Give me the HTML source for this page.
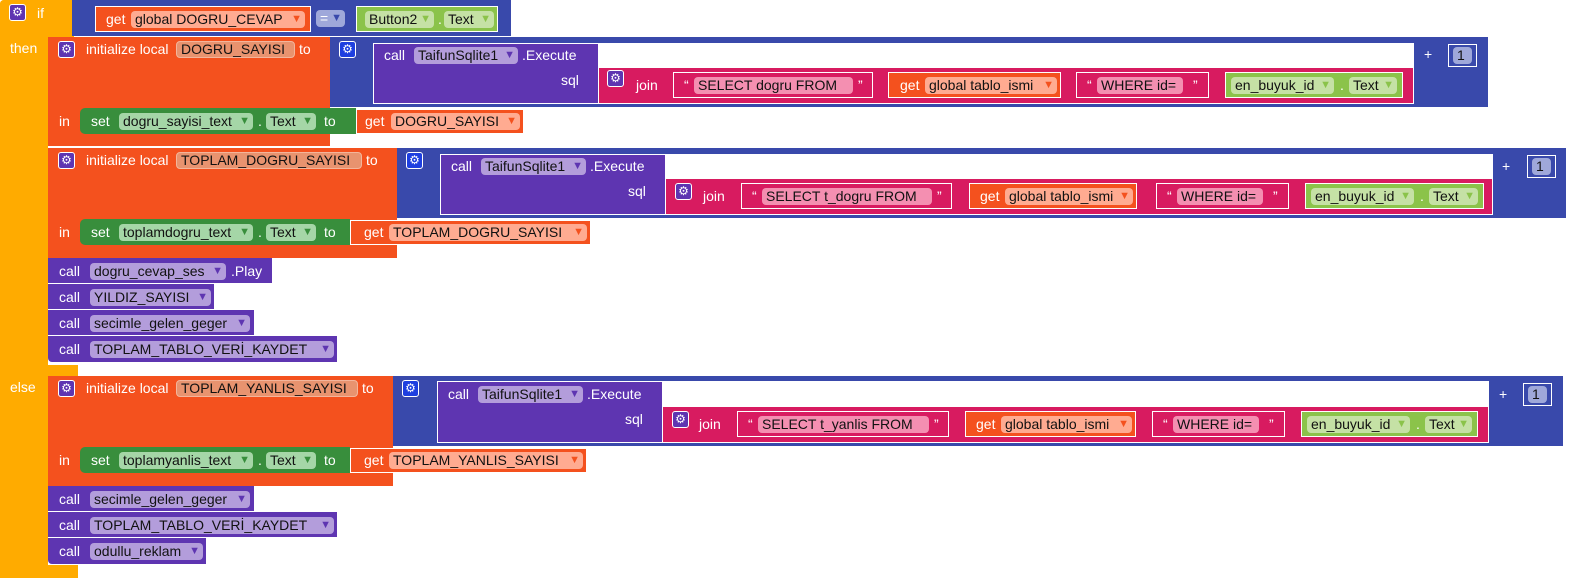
<!DOCTYPE html>
<html><head><meta charset="utf-8"><style>
*{margin:0;padding:0;box-sizing:border-box}
body{width:1582px;height:585px;background:#fff;position:relative;overflow:hidden;font:14px "Liberation Sans",sans-serif;color:#fff}
div,span{position:absolute;white-space:nowrap}
.r{}
.Y{background:#FFAB00}.O{background:#F4511E}.B{background:#3949AB}.P{background:#5E35B1}.K{background:#D81B60}.G{background:#388E3C}.L{background:#8BC34A}.W{background:#fff}
.o{border:1px solid #fff}
.t{line-height:16px;margin-top:-8px}
.p{height:17px;line-height:17px;margin-top:-8.5px;border-radius:4px;color:#111;padding-left:4px}
.p i{position:absolute;right:3px;top:0;font-style:normal;font-size:11px}
.gs{background:#FFAB91}.gs i{color:#F4511E}
.nm{background:#E8936F;border:1px solid #F3B59B;line-height:15px}
.lg{background:#C5E1A5}.lg i{color:#8BC34A}
.dg{background:#A5D6A7}.dg i{color:#388E3C}
.pu{background:#B39DDB}.pu i{color:#5E35B1}
.pk{background:#F48FB1}
.gear{width:17px;height:17px;border-radius:3px;background:#5E35B1;border:1px solid #fff;color:#fff;font-size:12px;line-height:15px;text-align:center}
.gb{background:#1E3FE0}
</style></head><body>
<!-- yellow if block -->
<div class="Y" style="left:0;top:0;width:48px;height:578px;border-radius:4px 0 0 4px"></div>
<div class="Y" style="left:0;top:0;width:74px;height:37px;border-radius:4px 0 0 0"></div>
<div class="Y" style="left:46px;top:365px;width:32px;height:12px"></div>
<div class="Y" style="left:0;top:565px;width:78px;height:13px"></div>
<div class="gear" style="left:9px;top:4px">⚙</div>
<span class="t" style="left:37px;top:13px">if</span>
<span class="t" style="left:10px;top:48px">then</span>
<span class="t" style="left:10px;top:387px">else</span>

<!-- if condition -->
<div class="B" style="left:72px;top:0;width:439px;height:36px"></div>
<div class="O o" style="left:95px;top:6px;width:216px;height:26px"></div>
<span class="t" style="left:106px;top:19px">get</span>
<span class="p gs" style="left:131px;top:19px;width:174px">global DOGRU_CEVAP<i>▼</i></span>
<span class="p" style="left:316px;top:18px;width:29px;background:#9FA8DA;color:#fff">=<i style="color:#3949AB">▼</i></span>
<div class="L o" style="left:356px;top:6px;width:142px;height:26px"></div>
<span class="p lg" style="left:365px;top:19px;width:69px">Button2<i>▼</i></span>
<span class="t" style="left:438px;top:19px">.</span>
<span class="p lg" style="left:444px;top:19px;width:50px">Text<i>▼</i></span>

<!-- ===== Section 1 ===== -->
<div class="O" style="left:48px;top:37px;width:282px;height:109px"></div>
<div class="gear" style="left:58px;top:41px">⚙</div>
<span class="t" style="left:86px;top:49px">initialize local</span>
<span class="p nm" style="left:176px;top:49px;width:119px">DOGRU_SAYISI</span>
<span class="t" style="left:299px;top:49px">to</span>
<div class="B" style="left:330px;top:37px;width:1158px;height:70px"></div>
<div class="gear gb" style="left:339px;top:41px">⚙</div>
<div class="W" style="left:598px;top:43px;width:816px;height:24px"></div>
<div class="P o" style="left:373px;top:43px;width:226px;height:61px"></div>
<span class="t" style="left:384px;top:55px">call</span>
<span class="p pu" style="left:414px;top:55px;width:104px">TaifunSqlite1<i>▼</i></span>
<span class="t" style="left:522px;top:55px">.Execute</span>
<span class="t" style="left:561px;top:80px">sql</span>
<div class="K o" style="left:598px;top:67px;width:816px;height:37px"></div>
<div class="gear" style="left:607px;top:70px">⚙</div>
<span class="t" style="left:636px;top:85px">join</span>
<div class="K o" style="left:673px;top:72px;width:200px;height:26px"></div>
<span class="t" style="left:684px;top:85px">“</span>
<span class="p pk" style="left:694px;top:85px;width:159px">SELECT dogru FROM</span>
<span class="t" style="left:858px;top:85px">”</span>
<div class="O o" style="left:888px;top:72px;width:173px;height:26px"></div>
<span class="t" style="left:900px;top:85px">get</span>
<span class="p gs" style="left:925px;top:85px;width:132px">global tablo_ismi<i>▼</i></span>
<div class="K o" style="left:1076px;top:72px;width:133px;height:26px"></div>
<span class="t" style="left:1087px;top:85px">“</span>
<span class="p pk" style="left:1097px;top:85px;width:86px">WHERE id=</span>
<span class="t" style="left:1193px;top:85px">”</span>
<div class="L o" style="left:1225px;top:72px;width:178px;height:26px"></div>
<span class="p lg" style="left:1231px;top:85px;width:103px">en_buyuk_id<i>▼</i></span>
<span class="t" style="left:1340px;top:85px">.</span>
<span class="p lg" style="left:1349px;top:85px;width:48px">Text<i>▼</i></span>
<span class="t" style="left:1424px;top:54px">+</span>
<div class="o" style="left:1448px;top:44px;width:29px;height:23px"></div>
<span class="p" style="left:1453px;top:55px;width:19px;background:#9FA8DA">1</span>
<span class="t" style="left:59px;top:121px">in</span>
<div class="G" style="left:80px;top:108px;width:276px;height:26px;border-radius:5px 0 0 5px"></div>
<span class="t" style="left:91px;top:121px">set</span>
<span class="p dg" style="left:119px;top:121px;width:134px">dogru_sayisi_text<i>▼</i></span>
<span class="t" style="left:258px;top:121px">.</span>
<span class="p dg" style="left:266px;top:121px;width:50px">Text<i>▼</i></span>
<span class="t" style="left:324px;top:121px">to</span>
<div class="O o" style="left:356px;top:109px;width:168px;height:25px"></div>
<span class="t" style="left:365px;top:121px">get</span>
<span class="p gs" style="left:391px;top:121px;width:129px">DOGRU_SAYISI<i>▼</i></span>

<!-- ===== Section 2 ===== -->
<div class="O" style="left:48px;top:148px;width:349px;height:110px"></div>
<div class="gear" style="left:58px;top:152px">⚙</div>
<span class="t" style="left:86px;top:160px">initialize local</span>
<span class="p nm" style="left:176px;top:160px;width:186px">TOPLAM_DOGRU_SAYISI</span>
<span class="t" style="left:366px;top:160px">to</span>
<div class="B" style="left:397px;top:148px;width:1169px;height:70px"></div>
<div class="gear gb" style="left:406px;top:152px">⚙</div>
<div class="W" style="left:665px;top:154px;width:828px;height:24px"></div>
<div class="P o" style="left:440px;top:154px;width:226px;height:61px"></div>
<span class="t" style="left:451px;top:166px">call</span>
<span class="p pu" style="left:481px;top:166px;width:105px">TaifunSqlite1<i>▼</i></span>
<span class="t" style="left:590px;top:166px">.Execute</span>
<span class="t" style="left:628px;top:191px">sql</span>
<div class="K o" style="left:665px;top:178px;width:828px;height:37px"></div>
<div class="gear" style="left:675px;top:183px">⚙</div>
<span class="t" style="left:703px;top:196px">join</span>
<div class="K o" style="left:741px;top:183px;width:211px;height:26px"></div>
<span class="t" style="left:752px;top:196px">“</span>
<span class="p pk" style="left:762px;top:196px;width:170px">SELECT t_dogru FROM</span>
<span class="t" style="left:937px;top:196px">”</span>
<div class="O o" style="left:969px;top:183px;width:168px;height:26px"></div>
<span class="t" style="left:980px;top:196px">get</span>
<span class="p gs" style="left:1005px;top:196px;width:128px">global tablo_ismi<i>▼</i></span>
<div class="K o" style="left:1156px;top:183px;width:133px;height:26px"></div>
<span class="t" style="left:1167px;top:196px">“</span>
<span class="p pk" style="left:1177px;top:196px;width:86px">WHERE id=</span>
<span class="t" style="left:1273px;top:196px">”</span>
<div class="L o" style="left:1305px;top:183px;width:179px;height:26px"></div>
<span class="p lg" style="left:1311px;top:196px;width:103px">en_buyuk_id<i>▼</i></span>
<span class="t" style="left:1420px;top:196px">.</span>
<span class="p lg" style="left:1429px;top:196px;width:49px">Text<i>▼</i></span>
<span class="t" style="left:1502px;top:166px">+</span>
<div class="o" style="left:1527px;top:155px;width:29px;height:23px"></div>
<span class="p" style="left:1532px;top:166px;width:19px;background:#9FA8DA">1</span>
<span class="t" style="left:59px;top:232px">in</span>
<div class="G" style="left:80px;top:219px;width:270px;height:26px;border-radius:5px 0 0 5px"></div>
<span class="t" style="left:91px;top:232px">set</span>
<span class="p dg" style="left:119px;top:232px;width:134px">toplamdogru_text<i>▼</i></span>
<span class="t" style="left:258px;top:232px">.</span>
<span class="p dg" style="left:266px;top:232px;width:50px">Text<i>▼</i></span>
<span class="t" style="left:324px;top:232px">to</span>
<div class="O o" style="left:350px;top:220px;width:241px;height:25px"></div>
<span class="t" style="left:364px;top:232px">get</span>
<span class="p gs" style="left:389px;top:232px;width:198px">TOPLAM_DOGRU_SAYISI<i>▼</i></span>

<!-- calls then -->
<div class="P" style="left:48px;top:258px;width:224px;height:25px"></div>
<span class="t" style="left:59px;top:271px">call</span>
<span class="p pu" style="left:90px;top:271px;width:136px">dogru_cevap_ses<i>▼</i></span>
<span class="t" style="left:231px;top:271px">.Play</span>
<div class="P" style="left:48px;top:284px;width:166px;height:25px"></div>
<span class="t" style="left:59px;top:297px">call</span>
<span class="p pu" style="left:90px;top:297px;width:121px">YILDIZ_SAYISI<i>▼</i></span>
<div class="P" style="left:48px;top:310px;width:206px;height:25px"></div>
<span class="t" style="left:59px;top:323px">call</span>
<span class="p pu" style="left:90px;top:323px;width:160px">secimle_gelen_geger<i>▼</i></span>
<div class="P" style="left:48px;top:336px;width:289px;height:26px;border-radius:0 0 0 4px"></div>
<span class="t" style="left:59px;top:349px">call</span>
<span class="p pu" style="left:90px;top:349px;width:244px">TOPLAM_TABLO_VERİ_KAYDET<i>▼</i></span>

<!-- ===== Else ===== -->
<div class="O" style="left:48px;top:376px;width:345px;height:110px"></div>
<div class="gear" style="left:58px;top:380px">⚙</div>
<span class="t" style="left:86px;top:388px">initialize local</span>
<span class="p nm" style="left:176px;top:388px;width:182px">TOPLAM_YANLIS_SAYISI</span>
<span class="t" style="left:362px;top:388px">to</span>
<div class="B" style="left:393px;top:376px;width:1170px;height:70px"></div>
<div class="gear gb" style="left:402px;top:380px">⚙</div>
<div class="W" style="left:662px;top:381px;width:827px;height:25px"></div>
<div class="P o" style="left:437px;top:381px;width:226px;height:62px"></div>
<span class="t" style="left:448px;top:394px">call</span>
<span class="p pu" style="left:478px;top:394px;width:105px">TaifunSqlite1<i>▼</i></span>
<span class="t" style="left:587px;top:394px">.Execute</span>
<span class="t" style="left:625px;top:419px">sql</span>
<div class="K o" style="left:662px;top:406px;width:827px;height:37px"></div>
<div class="gear" style="left:672px;top:411px">⚙</div>
<span class="t" style="left:699px;top:424px">join</span>
<div class="K o" style="left:737px;top:411px;width:212px;height:26px"></div>
<span class="t" style="left:748px;top:424px">“</span>
<span class="p pk" style="left:758px;top:424px;width:171px">SELECT t_yanlis FROM</span>
<span class="t" style="left:934px;top:424px">”</span>
<div class="O o" style="left:965px;top:411px;width:171px;height:26px"></div>
<span class="t" style="left:976px;top:424px">get</span>
<span class="p gs" style="left:1001px;top:424px;width:131px">global tablo_ismi<i>▼</i></span>
<div class="K o" style="left:1152px;top:411px;width:133px;height:26px"></div>
<span class="t" style="left:1163px;top:424px">“</span>
<span class="p pk" style="left:1173px;top:424px;width:86px">WHERE id=</span>
<span class="t" style="left:1269px;top:424px">”</span>
<div class="L o" style="left:1301px;top:411px;width:177px;height:26px"></div>
<span class="p lg" style="left:1307px;top:424px;width:103px">en_buyuk_id<i>▼</i></span>
<span class="t" style="left:1416px;top:424px">.</span>
<span class="p lg" style="left:1425px;top:424px;width:47px">Text<i>▼</i></span>
<span class="t" style="left:1499px;top:394px">+</span>
<div class="o" style="left:1523px;top:383px;width:29px;height:23px"></div>
<span class="p" style="left:1528px;top:394px;width:19px;background:#9FA8DA">1</span>
<span class="t" style="left:59px;top:460px">in</span>
<div class="G" style="left:80px;top:447px;width:270px;height:26px;border-radius:5px 0 0 5px"></div>
<span class="t" style="left:91px;top:460px">set</span>
<span class="p dg" style="left:119px;top:460px;width:134px">toplamyanlis_text<i>▼</i></span>
<span class="t" style="left:258px;top:460px">.</span>
<span class="p dg" style="left:266px;top:460px;width:50px">Text<i>▼</i></span>
<span class="t" style="left:324px;top:460px">to</span>
<div class="O o" style="left:350px;top:448px;width:237px;height:25px"></div>
<span class="t" style="left:364px;top:460px">get</span>
<span class="p gs" style="left:389px;top:460px;width:194px">TOPLAM_YANLIS_SAYISI<i>▼</i></span>

<!-- calls else -->
<div class="P" style="left:48px;top:486px;width:206px;height:25px"></div>
<span class="t" style="left:59px;top:499px">call</span>
<span class="p pu" style="left:90px;top:499px;width:160px">secimle_gelen_geger<i>▼</i></span>
<div class="P" style="left:48px;top:512px;width:289px;height:25px"></div>
<span class="t" style="left:59px;top:525px">call</span>
<span class="p pu" style="left:90px;top:525px;width:244px">TOPLAM_TABLO_VERİ_KAYDET<i>▼</i></span>
<div class="P" style="left:48px;top:538px;width:158px;height:26px;border-radius:0 0 0 4px"></div>
<span class="t" style="left:59px;top:551px">call</span>
<span class="p pu" style="left:90px;top:551px;width:113px">odullu_reklam<i>▼</i></span>
</body></html>
